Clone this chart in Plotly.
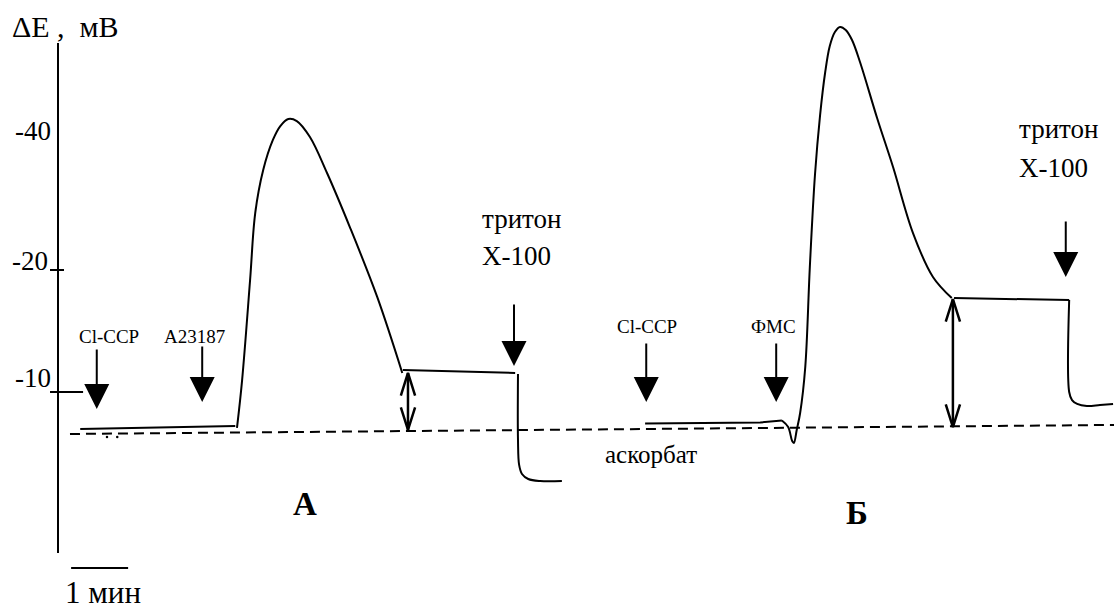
import plotly.graph_objects as go

# ---------------------------------------------------------------
# Potential response (ΔE, mV) versus time (min) for two experiments
# ---------------------------------------------------------------

# Experiment А: Cl-CCP, then A23187, then triton X-100
a_base_t = [0.39, 3.11]
a_base_v = [-6.97, -7.21]
a_peak_t = [3.14, 3.23, 3.37, 3.46, 3.60, 3.77, 3.90, 4.04, 4.19, 4.42, 4.72, 5.12, 5.60, 6.04]
a_peak_v = [-7.05, -10.98, -19.18, -24.67, -28.20, -30.66, -31.80, -32.38, -32.21, -30.90,
            -27.95, -23.52, -17.79, -11.56]
a_plat_t = [6.05, 8.02]
a_plat_v = [-11.80, -11.56]
a_tail_t = [8.07, 8.07, 8.09, 8.14, 8.25, 8.46, 8.84]
a_tail_v = [-11.48, -6.07, -4.02, -3.28, -2.87, -2.70, -2.70]

# Experiment Б: Cl-CCP, then ФМС, then triton X-100
b_base_t = [10.30, 12.32, 12.70]
b_base_v = [-7.42, -7.50, -7.66]
b_peak_t = [12.70, 12.81, 12.88, 12.91, 12.96, 13.02, 13.11, 13.19, 13.28, 13.37, 13.46,
            13.54, 13.63, 13.72, 13.82, 13.93, 14.07, 14.37, 14.65, 15.00, 15.35, 15.68]
b_peak_v = [-7.66, -7.13, -5.98, -5.82, -6.89, -8.28, -12.05, -20.25, -27.79, -32.70, -36.23,
            -38.36, -39.51, -39.92, -39.67, -38.85, -37.05, -32.46, -28.44, -23.03, -19.43,
            -17.70]
b_plat_t = [15.72, 17.74]
b_plat_v = [-17.70, -17.54]
b_tail_t = [17.74, 17.74, 17.79, 17.88, 18.05, 18.28, 18.51]
b_tail_v = [-17.54, -10.00, -9.34, -9.02, -8.85, -8.93, -9.02]

# ascorbate reference level (dashed)
ref_t = [0.21, 18.53]
ref_v = [-6.56, -7.30]

# two specks under the start of trace А
speck_t = [0.86, 1.04]
speck_v = [-6.31, -6.31]

# reagent additions: time, arrow tail level, arrow tip level
add_labels = ["Cl-CCP", "A23187", "Cl-CCP", "ФМС"]
add_t = [0.68, 2.53, 10.32, 12.60]
add_tail_v = [-13.61, -13.85, -14.10, -14.10]
add_tip_v = [-8.61, -9.18, -9.18, -9.18]
add_label_t = [0.90, 2.39, 10.33, 12.56]
add_label_v = [-14.51, -14.51, -15.33, -15.33]

# triton X-100 additions
triton_t = [8.00, 17.68]
triton_tail_v = [-17.30, -24.10]
triton_tip_v = [-12.13, -19.43]
triton_label_t = [7.40, 16.82]
triton_label_v = [-24.18, -31.56]
triton_label2_v = [-21.15, -28.36]

# residual shift (double-headed arrows): time, upper level, lower level
shift_t = [6.14, 15.70]
shift_top_v = [-11.56, -17.62]
shift_bot_v = [-6.89, -7.13]

# vertical axis
axis_top_v = -38.61
axis_bot_v = 3.20
tick_vals = [-20, -10]
tick_left_t = [-0.14, -0.14]
tick_right_t = [0.105, 0.44]
tick_labels = ["-40", "-20", "-10"]
tick_label_v = [-31.39, -20.74, -11.15]
tick_label_t = [-0.09, -0.14, -0.09]

# 1-minute scale bar
bar_t = [0.23, 1.23]
bar_v = 4.43

# panel letters
panel_labels = ["А", "Б"]
panel_t = [4.33, 14.02]
panel_v = [-0.82, -0.08]

SERIF = "Times New Roman, Liberation Serif, DejaVu Serif, serif"
LW = 2

fig = go.Figure()


def line(t, v, shape="linear", dash="solid", width=LW):
    fig.add_trace(go.Scatter(
        x=t, y=v, mode="lines",
        line=dict(color="black", width=width, shape=shape, dash=dash),
        hoverinfo="skip", showlegend=False))


# traces А and Б
line(a_base_t, a_base_v)
line(a_peak_t, a_peak_v, shape="spline")
line(a_plat_t, a_plat_v)
line(a_tail_t, a_tail_v, shape="spline")
line(b_base_t, b_base_v)
line(b_peak_t, b_peak_v, shape="spline")
line(b_plat_t, b_plat_v)
line(b_tail_t, b_tail_v, shape="spline")

# ascorbate level
line(ref_t, ref_v, dash="10px,6px")
fig.add_trace(go.Scatter(x=speck_t, y=speck_v, mode="markers",
                         marker=dict(color="black", size=2.5),
                         hoverinfo="skip", showlegend=False))

# vertical axis with its ticks
line([0, 0], [axis_top_v, axis_bot_v])
for tv, tl, tr in zip(tick_vals, tick_left_t, tick_right_t):
    line([tl, tr], [tv, tv])

# scale bar
line(bar_t, [bar_v, bar_v])

# double-headed arrows with open heads
ARM_DT = 0.125   # half-width of the open head (min)
ARM_DV = 1.85    # length of the open head (mV)
for t, top, bot in zip(shift_t, shift_top_v, shift_bot_v):
    line([t, t], [top, bot], width=2.5)
    line([t - ARM_DT, t, t + ARM_DT], [top + ARM_DV, top, top + ARM_DV], width=2.5)
    line([t - ARM_DT, t, t + ARM_DT], [bot - ARM_DV, bot, bot - ARM_DV], width=2.5)

annotations = []


def arrow(t, tail_v, tip_v):
    annotations.append(dict(
        x=t, y=tip_v, ax=t, ay=tail_v, xref="x", yref="y", axref="x", ayref="y",
        text="", showarrow=True, arrowhead=2, arrowsize=2.5, arrowwidth=2,
        arrowcolor="black"))


def label(text, t, v, size, xanchor="center", bold=False):
    annotations.append(dict(
        x=t, y=v, xref="x", yref="y", text=f"<b>{text}</b>" if bold else text,
        showarrow=False, xanchor=xanchor, yanchor="middle",
        font=dict(family=SERIF, size=size, color="black")))


for name, t, tail, tip, lt, lv in zip(add_labels, add_t, add_tail_v, add_tip_v,
                                      add_label_t, add_label_v):
    arrow(t, tail, tip)
    label(name, lt, lv, 19)

for t, tail, tip, lt, lv, lv2 in zip(triton_t, triton_tail_v, triton_tip_v,
                                     triton_label_t, triton_label_v, triton_label2_v):
    arrow(t, tail, tip)
    label("тритон", lt, lv, 27, xanchor="left")
    label("X-100", lt, lv2, 27, xanchor="left")

for text, t, v in zip(tick_labels, tick_label_t, tick_label_v):
    label(text, t, v, 27, xanchor="right")

label("ΔE\u00a0, \u00a0мВ", -0.84, -40.0, 30, xanchor="left")
label("аскорбат", 10.40, -4.84, 25)
label("1 мин", 0.79, 6.40, 31)
for text, t, v in zip(panel_labels, panel_t, panel_v):
    label(text, t, v, 33, bold=True)

fig.update_layout(
    width=1114, height=609,
    margin=dict(l=0, r=0, t=0, b=0),
    paper_bgcolor="white", plot_bgcolor="white",
    font=dict(family=SERIF, color="black"),
    xaxis=dict(range=[-58 / 57, (1114 - 58) / 57], visible=False, fixedrange=True),
    yaxis=dict(range=[7.787, -42.131], visible=False, fixedrange=True),
    annotations=annotations,
    showlegend=False,
)

fig.write_html("out.html")
